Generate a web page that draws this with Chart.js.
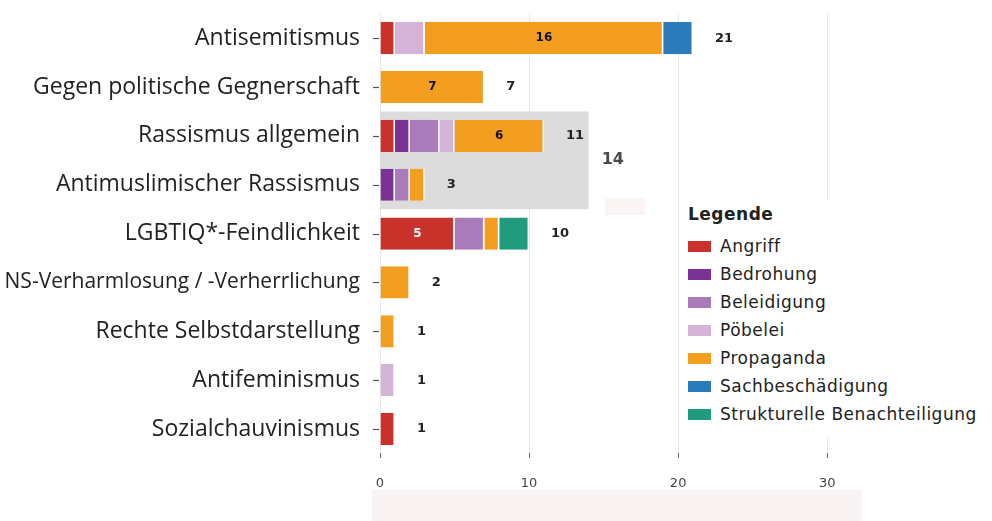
<!DOCTYPE html>
<html>
<head>
<meta charset="utf-8">
<script src="https://cdn.jsdelivr.net/npm/chart.js@4.4.1/dist/chart.umd.min.js"></script>
<style>
  html, body { margin: 0; padding: 0; background: #fff; }
  #wrap { position: relative; width: 992px; height: 521px; }
  #legend {
    position: absolute; left: 682px; top: 200px; width: 305px; height: 238px;
    background: #fff; font-family: "DejaVu Sans", sans-serif; color: #222;
    padding: 4px 0 0 6px; box-sizing: border-box; letter-spacing: 0.5px;
  }
  #legend .title { font-weight: bold; font-size: 17px; height: 28px; line-height: 20px; }
  #legend .item { display: flex; align-items: center; height: 28px; font-size: 17px; }
  #legend .sw { width: 23px; height: 11px; margin-right: 9px; }
  .smudge { position: absolute; background: #f9f3f3; }
</style>
</head>
<body>
<div id="wrap">
  <canvas id="chart" width="992" height="521"></canvas>
  <div class="smudge" style="left:372px;top:490px;width:490px;height:31px"></div>
  <div class="smudge" style="left:605px;top:198px;width:40px;height:17px;background:#fbf4f4"></div>
  <div id="legend"></div>
</div>
<script>
const categories = [
  'Antisemitismus',
  'Gegen politische Gegnerschaft',
  'Rassismus allgemein',
  'Antimuslimischer Rassismus',
  'LGBTIQ*-Feindlichkeit',
  'NS-Verharmlosung / -Verherrlichung',
  'Rechte Selbstdarstellung',
  'Antifeminismus',
  'Sozialchauvinismus',
]

const angriff      = [1, 0, 1, 0, 5, 0, 0, 0, 1]
const bedrohung    = [0, 0, 1, 1, 0, 0, 0, 0, 0]
const beleidigung  = [0, 0, 2, 1, 2, 0, 0, 0, 0]
const poebelei     = [2, 0, 1, 0, 0, 0, 0, 1, 0]
const propaganda   = [16, 7, 6, 1, 1, 2, 1, 0, 0]
const sachbesch    = [2, 0, 0, 0, 0, 0, 0, 0, 0]
const strukturell  = [0, 0, 0, 0, 2, 0, 0, 0, 0]

const xTicks = [0, 10, 20, 30]

// grey box behind the two racism rows, with the combined total
const rassismusGroup = ['Rassismus allgemein', 'Antimuslimischer Rassismus']

const series = [
  { label: 'Angriff', data: angriff, color: '#c9312b', text: '#fff' },
  { label: 'Bedrohung', data: bedrohung, color: '#7a3394', text: '#fff' },
  { label: 'Beleidigung', data: beleidigung, color: '#a97bb9', text: '#111' },
  { label: 'Pöbelei', data: poebelei, color: '#d5b4d7', text: '#111' },
  { label: 'Propaganda', data: propaganda, color: '#f39e1f', text: '#111' },
  { label: 'Sachbeschädigung', data: sachbesch, color: '#2b7bba', text: '#fff' },
  { label: 'Strukturelle Benachteiligung', data: strukturell, color: '#1f9b7e', text: '#fff' },
]

const totals = categories.map((c, i) => series.reduce((s, d) => s + d.data[i], 0))

const groupBox = {
  id: 'groupBox',
  beforeDatasetsDraw(chart) {
    const { ctx, scales: { x, y } } = chart
    const idx = rassismusGroup.map(c => categories.indexOf(c))
    const sum = idx.reduce((s, i) => s + totals[i], 0)
    const step = y.getPixelForValue(1) - y.getPixelForValue(0)
    const top = y.getPixelForValue(idx[0]) - step / 2
    const bottom = y.getPixelForValue(idx[idx.length - 1]) + step / 2
    const left = x.getPixelForValue(0)
    const right = x.getPixelForValue(sum)
    ctx.save()
    ctx.fillStyle = '#dcdcdc'
    ctx.fillRect(left, top, right - left, bottom - top)
    ctx.fillStyle = '#4a4a4a'
    ctx.font = 'bold 16px "DejaVu Sans"'
    ctx.textBaseline = 'middle'
    ctx.fillText(String(sum), right + 13, (top + bottom) / 2)
    // little tick marks left of every category
    ctx.strokeStyle = '#555'
    ctx.lineWidth = 1.2
    categories.forEach((c, i) => {
      const py = Math.round(y.getPixelForValue(i)) + 0.5
      ctx.beginPath()
      ctx.moveTo(left - 7, py)
      ctx.lineTo(left - 1, py)
      ctx.stroke()
    })
    ctx.restore()
  }
}

const barLabels = {
  id: 'barLabels',
  afterDatasetsDraw(chart) {
    const { ctx, scales: { x } } = chart
    ctx.save()
    ctx.textBaseline = 'middle'
    chart.data.datasets.forEach((ds, di) => {
      const meta = chart.getDatasetMeta(di)
      meta.data.forEach((bar, i) => {
        const v = ds.data[i]
        if (!v || v < 5) return
        ctx.fillStyle = series[di].text
        ctx.font = 'bold 12px "DejaVu Sans"'
        ctx.textAlign = 'center'
        ctx.fillText(String(v), (bar.x + bar.base) / 2, bar.y)
      })
    })
    const meta0 = chart.getDatasetMeta(0)
    totals.forEach((t, i) => {
      ctx.fillStyle = '#222'
      ctx.font = 'bold 13px "DejaVu Sans"'
      ctx.textAlign = 'left'
      ctx.fillText(String(t), x.getPixelForValue(t) + 22, meta0.data[i].y)
    })
    ctx.restore()
  }
}

new Chart(document.getElementById('chart'), {
  type: 'bar',
  data: {
    labels: categories,
    datasets: series.map(s => ({
      label: s.label,
      data: s.data.map(v => v === 0 ? null : v),
      backgroundColor: s.color,
      borderColor: '#fff',
      borderWidth: { right: 1.5, left: 0, top: 0, bottom: 0 },
      borderSkipped: false,
      categoryPercentage: 1,
      barPercentage: 0.66,
    }))
  },
  options: {
    indexAxis: 'y',
    responsive: false,
    animation: false,
    layout: { padding: { top: 0, right: 135, bottom: 24, left: 0 } },
    plugins: {
      legend: { display: false },
      tooltip: { enabled: false },
    },
    scales: {
      x: {
        stacked: true,
        min: 0,
        max: 32,
        afterBuildTicks(scale) { scale.ticks = xTicks.map(v => ({ value: v })) },
        grid: {
          color: '#e8e8e8',
          tickColor: '#666',
          tickLength: 16,
          tickBorderDash: [5, 30],
        },
        border: { display: false },
        ticks: {
          color: '#444',
          font: { family: 'DejaVu Sans', size: 13 },
          padding: 6,
        },
      },
      y: {
        stacked: true,
        afterFit(scale) { scale.width = 380 },
        grid: { drawOnChartArea: false, tickLength: 20, tickColor: 'rgba(0,0,0,0)' },
        border: { display: false },
        ticks: {
          color: '#222',
          padding: 0,
          font: ctx => ({ family: 'Open Sans', size: ctx.index === 5 ? 21 : 23 }),
        },
      },
    },
  },
  plugins: [groupBox, barLabels],
})

const legend = document.getElementById('legend')
legend.innerHTML = '<div class="title">Legende</div>' + series.map(s =>
  `<div class="item"><span class="sw" style="background:${s.color}"></span>${s.label}</div>`
).join('')
</script>
</body>
</html>
